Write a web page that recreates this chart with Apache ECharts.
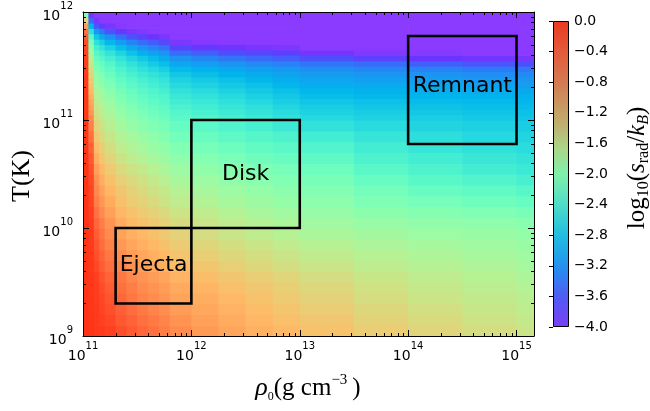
<!DOCTYPE html>
<html>
<head>
<meta charset="utf-8">
<script src="https://cdn.jsdelivr.net/npm/echarts@6/dist/echarts.min.js"></script>
<style>
  html, body { margin: 0; padding: 0; background: #fff; }
  #chart { width: 650px; height: 411px; }
</style>
</head>
<body>
<div id="chart"></div>
<script>
// Grid of log10(s_rad/k_B): bin edges in log10(rho) and log10(T)
const logRhoEdges = [11, 11.05, 11.1, 11.15, 11.2, 11.3, 11.4, 11.5, 11.6, 11.7, 11.8,
                     12, 12.25, 12.5, 12.75, 13, 13.5, 14, 14.5, 15, 15.2];
const logTEdges = [9, 9.1, 9.2, 9.3, 9.4, 9.5, 9.6, 9.7, 9.8, 9.9, 10,
                   10.1, 10.2, 10.3, 10.4, 10.5, 10.6, 10.7, 10.8, 10.9, 11,
                   11.05, 11.1, 11.15, 11.2, 11.25, 11.3, 11.35, 11.4, 11.45, 11.5,
                   11.55, 11.6, 11.65, 11.7, 11.75, 11.8, 11.85, 11.9, 11.95, 12];

// One array per density bin, temperature bins from bottom to top
const logSradByRhoBin = [
  [-0.12,-0.12,-0.12,-0.12,-0.12,-0.12,-0.12,-0.12,-0.12,-0.12,-0.12,-0.12,-0.12,-0.13,-0.13,-0.13,-0.14,-0.14,-0.14,-0.15,
   -0.15,-0.15,-0.16,-0.16,-0.16,-0.17,-0.17,-0.18,-0.19,-0.2,-0.2,-0.21,-0.23,-0.26,-0.3,-0.36,-0.5,-0.78,-1.25,-2.03],
  [-0.14,-0.14,-0.15,-0.15,-0.15,-0.15,-0.16,-0.17,-0.17,-0.18,-0.19,-0.21,-0.23,-0.25,-0.27,-0.31,-0.37,-0.42,-0.5,-0.6,
   -0.68,-0.74,-0.81,-0.87,-0.94,-1.01,-1.09,-1.16,-1.25,-1.35,-1.46,-1.59,-1.73,-1.88,-2.05,-2.3,-2.63,-3.0,-3.45,-3.85],
  [-0.16,-0.17,-0.18,-0.19,-0.2,-0.22,-0.26,-0.3,-0.34,-0.38,-0.44,-0.51,-0.58,-0.65,-0.72,-0.81,-0.92,-1.03,-1.14,-1.25,
   -1.33,-1.39,-1.46,-1.52,-1.59,-1.66,-1.74,-1.81,-1.9,-1.99,-2.09,-2.2,-2.32,-2.45,-2.62,-2.86,-3.18,-3.55,-3.88,-4],
  [-0.18,-0.21,-0.24,-0.26,-0.29,-0.33,-0.38,-0.43,-0.48,-0.53,-0.59,-0.67,-0.75,-0.83,-0.91,-1.0,-1.1,-1.2,-1.3,-1.4,
   -1.48,-1.54,-1.59,-1.65,-1.72,-1.79,-1.87,-1.94,-2.02,-2.11,-2.2,-2.31,-2.44,-2.6,-2.79,-3.05,-3.38,-3.75,-3.98,-4],
  [-0.22,-0.26,-0.3,-0.34,-0.38,-0.43,-0.49,-0.55,-0.61,-0.67,-0.74,-0.82,-0.9,-0.98,-1.06,-1.15,-1.25,-1.35,-1.45,-1.55,
   -1.63,-1.68,-1.74,-1.79,-1.86,-1.93,-2.01,-2.08,-2.16,-2.24,-2.34,-2.45,-2.59,-2.76,-2.97,-3.24,-3.58,-3.88,-4,-4],
  [-0.3,-0.35,-0.4,-0.45,-0.5,-0.55,-0.62,-0.69,-0.76,-0.83,-0.9,-0.98,-1.06,-1.13,-1.21,-1.3,-1.4,-1.5,-1.6,-1.71,
   -1.79,-1.84,-1.9,-1.95,-2.02,-2.09,-2.16,-2.23,-2.31,-2.39,-2.49,-2.6,-2.75,-2.93,-3.15,-3.44,-3.76,-3.96,-4,-4],
  [-0.37,-0.42,-0.48,-0.54,-0.59,-0.65,-0.72,-0.79,-0.86,-0.93,-1.0,-1.08,-1.16,-1.23,-1.31,-1.4,-1.51,-1.61,-1.71,-1.82,
   -1.9,-1.96,-2.01,-2.07,-2.14,-2.2,-2.28,-2.33,-2.42,-2.51,-2.61,-2.74,-2.9,-3.09,-3.3,-3.59,-3.88,-4,-4,-4],
  [-0.45,-0.5,-0.56,-0.62,-0.67,-0.73,-0.8,-0.87,-0.93,-1.0,-1.07,-1.15,-1.23,-1.31,-1.39,-1.48,-1.59,-1.7,-1.8,-1.91,
   -1.99,-2.05,-2.11,-2.17,-2.23,-2.3,-2.37,-2.44,-2.52,-2.61,-2.72,-2.85,-3.02,-3.21,-3.43,-3.7,-3.93,-4,-4,-4],
  [-0.51,-0.56,-0.62,-0.68,-0.73,-0.79,-0.86,-0.93,-1.0,-1.07,-1.14,-1.23,-1.31,-1.39,-1.48,-1.58,-1.69,-1.8,-1.9,-2.0,
   -2.08,-2.14,-2.19,-2.25,-2.31,-2.38,-2.45,-2.51,-2.6,-2.7,-2.82,-2.95,-3.12,-3.31,-3.53,-3.8,-3.98,-4,-4,-4],
  [-0.58,-0.63,-0.69,-0.74,-0.79,-0.86,-0.93,-1.0,-1.07,-1.14,-1.21,-1.3,-1.39,-1.47,-1.56,-1.65,-1.76,-1.87,-1.97,-2.07,
   -2.15,-2.21,-2.26,-2.32,-2.38,-2.45,-2.52,-2.59,-2.68,-2.79,-2.92,-3.05,-3.22,-3.41,-3.64,-3.89,-4,-4,-4,-4],
  [-0.68,-0.73,-0.79,-0.84,-0.89,-0.96,-1.03,-1.1,-1.17,-1.24,-1.32,-1.41,-1.5,-1.59,-1.68,-1.78,-1.89,-1.99,-2.1,-2.2,
   -2.28,-2.34,-2.41,-2.47,-2.54,-2.61,-2.69,-2.76,-2.85,-2.95,-3.08,-3.23,-3.43,-3.68,-3.9,-4,-4,-4,-4,-4],
  [-0.77,-0.82,-0.87,-0.92,-0.97,-1.04,-1.11,-1.19,-1.27,-1.34,-1.42,-1.51,-1.6,-1.69,-1.78,-1.87,-1.98,-2.08,-2.18,-2.28,
   -2.36,-2.42,-2.48,-2.54,-2.61,-2.68,-2.76,-2.83,-2.92,-3.02,-3.15,-3.3,-3.51,-3.77,-3.95,-4,-4,-4,-4,-4],
  [-0.85,-0.9,-0.95,-1.0,-1.05,-1.12,-1.2,-1.28,-1.35,-1.43,-1.51,-1.6,-1.69,-1.77,-1.86,-1.95,-2.05,-2.15,-2.26,-2.37,
   -2.45,-2.51,-2.56,-2.62,-2.69,-2.76,-2.84,-2.91,-2.99,-3.08,-3.21,-3.39,-3.6,-3.83,-3.98,-4,-4,-4,-4,-4],
  [-0.93,-0.98,-1.03,-1.08,-1.13,-1.19,-1.27,-1.35,-1.43,-1.51,-1.59,-1.68,-1.76,-1.84,-1.93,-2.02,-2.12,-2.22,-2.33,-2.44,
   -2.53,-2.59,-2.64,-2.7,-2.77,-2.84,-2.91,-2.98,-3.06,-3.14,-3.27,-3.46,-3.66,-3.89,-4,-4,-4,-4,-4,-4],
  [-0.99,-1.05,-1.1,-1.15,-1.2,-1.26,-1.34,-1.42,-1.5,-1.58,-1.66,-1.74,-1.83,-1.91,-1.99,-2.08,-2.18,-2.28,-2.39,-2.52,
   -2.61,-2.67,-2.73,-2.79,-2.85,-2.91,-2.98,-3.04,-3.11,-3.18,-3.32,-3.52,-3.72,-3.91,-4,-4,-4,-4,-4,-4],
  [-1.08,-1.13,-1.18,-1.23,-1.28,-1.34,-1.42,-1.5,-1.58,-1.66,-1.74,-1.82,-1.9,-1.98,-2.06,-2.15,-2.26,-2.37,-2.48,-2.61,
   -2.7,-2.76,-2.81,-2.87,-2.93,-2.98,-3.04,-3.09,-3.16,-3.24,-3.39,-3.61,-3.86,-4,-4,-4,-4,-4,-4,-4],
  [-1.18,-1.23,-1.28,-1.33,-1.38,-1.44,-1.51,-1.58,-1.65,-1.72,-1.81,-1.91,-2.01,-2.1,-2.2,-2.3,-2.39,-2.48,-2.57,-2.68,
   -2.76,-2.81,-2.86,-2.91,-2.97,-3.02,-3.07,-3.12,-3.2,-3.29,-3.44,-3.7,-3.93,-4,-4,-4,-4,-4,-4,-4],
  [-1.26,-1.31,-1.36,-1.41,-1.46,-1.51,-1.58,-1.64,-1.7,-1.77,-1.86,-1.97,-2.08,-2.19,-2.3,-2.39,-2.48,-2.56,-2.65,-2.74,
   -2.8,-2.85,-2.89,-2.94,-2.99,-3.04,-3.09,-3.14,-3.22,-3.32,-3.51,-3.79,-3.96,-4,-4,-4,-4,-4,-4,-4],
  [-1.34,-1.39,-1.44,-1.48,-1.53,-1.58,-1.63,-1.69,-1.75,-1.8,-1.89,-2.01,-2.13,-2.25,-2.37,-2.47,-2.55,-2.62,-2.7,-2.78,
   -2.84,-2.88,-2.92,-2.96,-3.01,-3.07,-3.12,-3.18,-3.25,-3.35,-3.56,-3.85,-4,-4,-4,-4,-4,-4,-4,-4],
  [-1.42,-1.47,-1.51,-1.55,-1.6,-1.65,-1.7,-1.75,-1.8,-1.85,-1.93,-2.06,-2.19,-2.31,-2.44,-2.53,-2.6,-2.67,-2.74,-2.81,
   -2.87,-2.91,-2.94,-2.98,-3.03,-3.08,-3.14,-3.19,-3.27,-3.37,-3.6,-3.89,-4,-4,-4,-4,-4,-4,-4,-4]
];

// Axis ranges and decades that carry labels
const rhoRange = [1e11, 1.45e15];
const tempRange = [1e9, 1e12];
const rhoDecades = [11, 12, 13, 14];
const tempDecades = [9, 10, 11];

// Colour scale range and tick step
const sradRange = [-4, 0];
const sradTickStep = 0.4;

// Regions outlined on the plane
const regionNames = ['Ejecta', 'Disk', 'Remnant'];
const regionRho = [[2e11, 1e12], [1e12, 1e13], [1e14, 1e15]];
const regionTemp = [[2e9, 1e10], [1e10, 1e11], [6e10, 6e11]];

// Rainbow colour map, from -4 to 0
const heatPalette = ['#8b3bff', '#6a34fe', '#4d4ffc', '#3374f8', '#1a96f2', '#00b4ec', '#1acee3',
  '#33e3da', '#4df3ce', '#66fcc2', '#80ffb4', '#99fca5', '#b3f396', '#cce385', '#e8cf76',
  '#ffb966', '#ff9e58', '#ff8048', '#ff5f36', '#ff3d1e', '#ff230a'];
// Colour bar shading, top (0) to bottom (-4)
const colorbarStops = [[0, '#eb3a1e'], [0.1, '#e45a3c'], [0.2, '#d47a52'], [0.28, '#c79a62'],
  [0.35, '#bdb472'], [0.42, '#a9d889'], [0.5, '#7ff0aa'], [0.6, '#4fdcc8'], [0.7, '#22bde0'],
  [0.8, '#2392ef'], [0.9, '#4f5cf5'], [1, '#7a3ef6']];

const pow10 = e => Math.pow(10, e);

// Cells: [rhoLo, rhoHi, TLo, THi, value]
const cells = [];
logSradByRhoBin.forEach((col, i) => {
  col.forEach((v, j) => {
    cells.push([pow10(logRhoEdges[i]), pow10(logRhoEdges[i + 1]),
                pow10(logTEdges[j]), pow10(logTEdges[j + 1]), v]);
  });
});

// Minor ticks at 2..9 x 10^k
const minorRho = [];
rhoDecades.forEach(k => { for (let m = 2; m <= 9; m++) { const v = m * pow10(k); if (v <= rhoRange[1]) minorRho.push([v, tempRange[0]]); } });
const minorTemp = [];
tempDecades.forEach(k => { for (let m = 2; m <= 9; m++) minorTemp.push([rhoRange[0], m * pow10(k)]); });

const powLabel = v => {
  const e = Math.log10(v);
  const r = Math.round(e);
  if (Math.abs(e - r) > 1e-6) return '';
  return '{b|10}{s|' + r + '}';
};
const tickRich = {
  b: { fontFamily: 'DejaVu Sans', fontSize: 14, lineHeight: 22, verticalAlign: 'bottom', color: '#000' },
  s: { fontFamily: 'DejaVu Sans', fontSize: 10, lineHeight: 15, verticalAlign: 'top', color: '#000' }
};

const frameAxis = (extra) => Object.assign({
  type: 'log', logBase: 10, gridIndex: 0, z: 10,
  axisLine: { show: true, onZero: false, lineStyle: { color: '#000', width: 1 } },
  axisTick: { show: true, inside: true, length: 6, lineStyle: { color: '#000', width: 1 } },
  splitLine: { show: false },
  minorTick: { show: false }
}, extra);

const crisp = x => Math.round(x) + 0.5;

const series = [];

// log10(s_rad/k_B) cells
series.push({
  type: 'custom', name: 'srad', xAxisIndex: 0, yAxisIndex: 0, z: 1, clip: true, silent: true,
  encode: { x: [0, 1], y: [2, 3] },
  data: cells,
  renderItem(params, api) {
    const p0 = api.coord([api.value(0), api.value(2)]);
    const p1 = api.coord([api.value(1), api.value(3)]);
    return {
      type: 'rect',
      shape: { x: p0[0], y: p1[1], width: p1[0] - p0[0] + 0.7, height: p0[1] - p1[1] + 0.7 },
      style: { fill: api.visual('color') }
    };
  }
});

// Region outlines
regionNames.forEach((name, k) => {
  const [r0, r1] = regionRho[k];
  const [t0, t1] = regionTemp[k];
  series.push({
    type: 'line', name, xAxisIndex: 0, yAxisIndex: 0, z: 4, silent: true,
    symbol: 'none', animation: false,
    lineStyle: { color: '#000', width: 2.6, join: 'miter', cap: 'square' },
    data: [[r0, t0], [r1, t0], [r1, t1], [r0, t1], [r0, t0]]
  });
});

// Region names at the (log) centre of each box
series.push({
  type: 'custom', xAxisIndex: 0, yAxisIndex: 0, z: 5, silent: true,
  encode: { x: 0, y: 1 },
  data: regionNames.map((name, k) => ({
    name,
    value: [Math.sqrt(regionRho[k][0] * regionRho[k][1]), Math.sqrt(regionTemp[k][0] * regionTemp[k][1])]
  })),
  renderItem(params, api) {
    const p = api.coord([api.value(0), api.value(1)]);
    const name = regionNames[params.dataIndex];
    return {
      type: 'text', x: p[0], y: p[1] + (name === 'Remnant' ? -4 : 0),
      style: { text: name, font: '22px "DejaVu Sans"', fill: '#000',
               textAlign: 'center', textVerticalAlign: 'middle', align: 'center', verticalAlign: 'middle' }
    };
  }
});

// Minor ticks on the bottom/top edges
series.push({
  type: 'custom', xAxisIndex: 0, yAxisIndex: 0, z: 6, silent: true,
  encode: { x: 0, y: 1 }, data: minorRho,
  renderItem(params, api) {
    const cs = params.coordSys;
    const x = crisp(api.coord([api.value(0), api.value(1)])[0]);
    const yb = cs.y + cs.height, yt = cs.y;
    return { type: 'group', children: [
      { type: 'line', shape: { x1: x, y1: yb, x2: x, y2: yb - 3 }, style: { stroke: '#000', lineWidth: 1 } },
      { type: 'line', shape: { x1: x, y1: yt, x2: x, y2: yt + 3 }, style: { stroke: '#000', lineWidth: 1 } }
    ] };
  }
});

// Minor ticks on the left/right edges
series.push({
  type: 'custom', xAxisIndex: 0, yAxisIndex: 0, z: 6, silent: true,
  encode: { x: 0, y: 1 }, data: minorTemp,
  renderItem(params, api) {
    const cs = params.coordSys;
    const y = crisp(api.coord([api.value(0), api.value(1)])[1]);
    const xl = cs.x, xr = cs.x + cs.width;
    return { type: 'group', children: [
      { type: 'line', shape: { x1: xl, y1: y, x2: xl + 3, y2: y }, style: { stroke: '#000', lineWidth: 1 } },
      { type: 'line', shape: { x1: xr, y1: y, x2: xr - 3, y2: y }, style: { stroke: '#000', lineWidth: 1 } }
    ] };
  }
});

// Colour bar
series.push({
  type: 'custom', xAxisIndex: 2, yAxisIndex: 2, z: 2, silent: true,
  encode: { x: [0, 2], y: [1, 3] },
  data: [[0, sradRange[0], 1, sradRange[1]]],
  renderItem(params, api) {
    const a = api.coord([api.value(0), api.value(1)]);
    const b = api.coord([api.value(2), api.value(3)]);
    return {
      type: 'rect',
      shape: { x: a[0] + 0.5, y: b[1] + 0.5, width: b[0] - a[0] - 1, height: a[1] - b[1] - 1 },
      style: {
        fill: new echarts.graphic.LinearGradient(0, 0, 0, 1,
          colorbarStops.map(([offset, color]) => ({ offset, color }))),
        stroke: '#000', lineWidth: 1
      }
    };
  }
});

const serif = '"Liberation Serif", "DejaVu Serif", serif';

const option = {
  animation: false,
  backgroundColor: '#fff',
  grid: [
    { left: 83, top: 12, width: 451, height: 324 },
    { left: 553, top: 21, width: 16, height: 306 }
  ],
  xAxis: [
    frameAxis({ position: 'bottom', min: rhoRange[0], max: rhoRange[1],
      axisLabel: { formatter: powLabel, rich: tickRich, margin: 5, showMinLabel: true, showMaxLabel: true, hideOverlap: false } }),
    frameAxis({ position: 'top', min: rhoRange[0], max: rhoRange[1], axisLabel: { show: false } }),
    { type: 'value', gridIndex: 1, min: 0, max: 1, show: false }
  ],
  yAxis: [
    frameAxis({ position: 'left', min: tempRange[0], max: tempRange[1],
      axisLabel: { formatter: powLabel, rich: tickRich, margin: 10, showMinLabel: true, showMaxLabel: true, hideOverlap: false } }),
    frameAxis({ position: 'right', min: tempRange[0], max: tempRange[1], axisLabel: { show: false } }),
    { type: 'value', gridIndex: 1, min: sradRange[0], max: sradRange[1], interval: sradTickStep,
      position: 'right', z: 10,
      axisLine: { show: false },
      axisTick: { show: true, inside: true, length: 4, lineStyle: { color: '#000', width: 1 } },
      splitLine: { show: false },
      axisLabel: { margin: 5, fontFamily: 'DejaVu Sans', fontSize: 14, color: '#000',
        formatter: v => Math.abs(v) < 1e-9 ? '0.0' : (v < 0 ? '\u2212' : '') + Math.abs(v).toFixed(1) } }
  ],
  visualMap: {
    type: 'continuous', show: false, seriesIndex: 0, dimension: 4,
    min: sradRange[0], max: sradRange[1], inRange: { color: heatPalette }
  },
  graphic: [
    { type: 'text', x: 22, y: 176, rotation: Math.PI / 2, z: 20, silent: true,
      style: { text: 'T(K)', font: '26px ' + serif, fill: '#000',
               textAlign: 'center', textVerticalAlign: 'middle', align: 'center', verticalAlign: 'middle' } },
    { type: 'text', x: 308, y: 388, z: 20, silent: true,
      style: {
        text: '{i|\u03c1}{sub|0}{r|(g cm}{sup|\u22123}{r|\u2009)}',
        textAlign: 'center', textVerticalAlign: 'middle', align: 'center', verticalAlign: 'middle',
        rich: {
          i: { fontFamily: serif, fontStyle: 'italic', fontSize: 26, lineHeight: 30, verticalAlign: 'middle', fill: '#000', color: '#000' },
          r: { fontFamily: serif, fontSize: 25, lineHeight: 30, verticalAlign: 'middle', fill: '#000', color: '#000' },
          sub: { fontFamily: serif, fontSize: 12, lineHeight: 12, verticalAlign: 'bottom', fill: '#000', color: '#000' },
          sup: { fontFamily: serif, fontSize: 15, lineHeight: 15, verticalAlign: 'top', fill: '#000', color: '#000' }
        }
      } },
    { type: 'text', x: 637, y: 168, rotation: Math.PI / 2, z: 20, silent: true,
      style: {
        text: '{r|log}{sub|10}{r|(}{i|s}{sub|rad}{r|/}{i|k}{subi|B}{r|)}',
        textAlign: 'center', textVerticalAlign: 'middle', align: 'center', verticalAlign: 'middle',
        rich: {
          i: { fontFamily: serif, fontStyle: 'italic', fontSize: 25, lineHeight: 30, verticalAlign: 'middle', fill: '#000', color: '#000' },
          r: { fontFamily: serif, fontSize: 25, lineHeight: 30, verticalAlign: 'middle', fill: '#000', color: '#000' },
          sub: { fontFamily: serif, fontSize: 16, lineHeight: 16, verticalAlign: 'bottom', fill: '#000', color: '#000' },
          subi: { fontFamily: serif, fontStyle: 'italic', fontSize: 16, lineHeight: 16, verticalAlign: 'bottom', fill: '#000', color: '#000' }
        }
      } }
  ],
  series
};

const chart = echarts.init(document.getElementById('chart'), null, { renderer: 'canvas' });
chart.setOption(option);
</script>
</body>
</html>
